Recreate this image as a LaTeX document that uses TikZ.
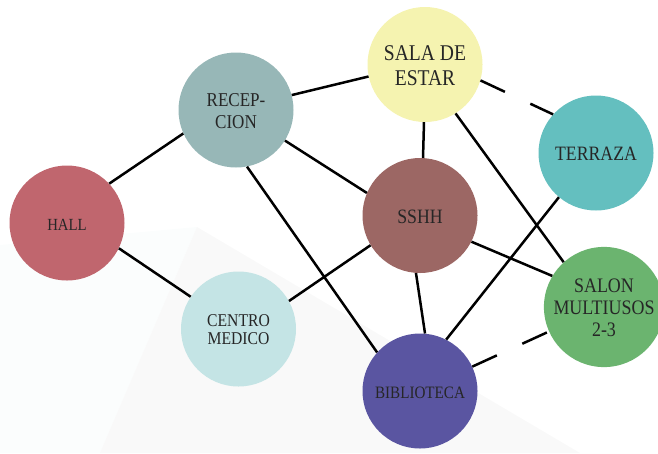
\documentclass[tikz,border=0pt]{standalone}
\usepackage{fontspec}
\setmainfont{Liberation Serif}
\usepackage{tikz}
\usetikzlibrary{shapes,positioning}
\usepackage{xcolor}
\definecolor{hallred}{RGB}{192,102,110}
\definecolor{recepgrey}{RGB}{151,183,183}
\definecolor{salayellow}{RGB}{245,243,176}
\definecolor{terrazateal}{RGB}{100,191,191}
\definecolor{sshhbrown}{RGB}{156,103,100}
\definecolor{centroblue}{RGB}{196,228,229}
\definecolor{bibliopurple}{RGB}{90,85,161}
\definecolor{salongreen}{RGB}{107,180,111}
\definecolor{labelgrey}{RGB}{38,38,38}
\definecolor{shadegrey}{RGB}{249,249,249}
\definecolor{shadewhite}{RGB}{251,253,253}
\newcommand{\roomname}[1]{\raisebox{-3pt}[\height][\depth]{\scalebox{0.87}[1]{\begin{tabular}{@{}c@{}}#1\end{tabular}}}}

\begin{document}
\begin{tikzpicture}[x=1pt,y=-1pt,
    room/.style={circle, minimum size=115pt, inner sep=0pt, align=center, text=labelgrey},
    link/.style={line width=2.5pt},
    maybe/.style={link, dash pattern=on 27pt off 28pt}]
    \useasboundingbox (0,0) rectangle (658,453);
    %, Background ---
    \fill[shadewhite] (0,245) -- (197,227) -- (100,453) -- (0,453) -- cycle;
    \fill[shadegrey] (197,227) -- (580,453) -- (100,453) -- cycle;

    %, Rooms ---
    \node[room, fill=hallred, font=\fontsize{17}{20}\selectfont] (hall) at (67,223) {\roomname{HALL}};
    \node[room, fill=recepgrey, font=\fontsize{19.6}{21.7}\selectfont] (recep) at (236,110) {\roomname{RECEP-\\CION}};
    \node[room, fill=salayellow, font=\fontsize{22.5}{25}\selectfont] (sala) at (425,64.5) {\roomname{SALA DE\\ESTAR}};
    \node[room, fill=terrazateal, font=\fontsize{20.4}{23}\selectfont] (terraza) at (596,153) {\roomname{TERRAZA}};
    \node[room, fill=sshhbrown, font=\fontsize{20.4}{23}\selectfont] (sshh) at (420,215.5) {\roomname{SSHH}};
    \node[room, fill=centroblue, font=\fontsize{18}{18.3}\selectfont] (centro) at (238.5,329) {\roomname{CENTRO\\MEDICO}};
    \node[room, fill=bibliopurple, font=\fontsize{17.4}{20}\selectfont] (biblio) at (420,391) {\roomname{BIBLIOTECA}};
    \node[room, fill=salongreen, font=\fontsize{20.6}{21.7}\selectfont] (salon) at (604,307) {\roomname{SALON\\MULTIUSOS\\2-3}};

    %, Links ---
    \draw[link] (hall.43) -- (recep.-156);
    \draw[link] (hall.-26) -- (centro.146);
    \draw[link] (recep.15.6) -- (sala.-168);
    \draw[link] (recep.-32) -- (sshh.157);
    \draw[link] (recep.-79) -- (biblio.138.4);
    \draw[link] (sala.-91) -- (sshh.87);
    \draw[link] (sala.-58.6) -- (salon.132.8);
    \draw[link] (sshh.211.5) -- (centro.29.6);
    \draw[link] (sshh.-94.4) -- (biblio.85.7);
    \draw[link] (sshh.-27.9) -- (salon.149);
    \draw[link] (terraza.230.7) -- (biblio.63);
    \draw[maybe] (sala.-16.4) -- (terraza.138.8);
    \draw[maybe] (biblio.25.7) -- (salon.-156);
\end{tikzpicture}
\end{document}
